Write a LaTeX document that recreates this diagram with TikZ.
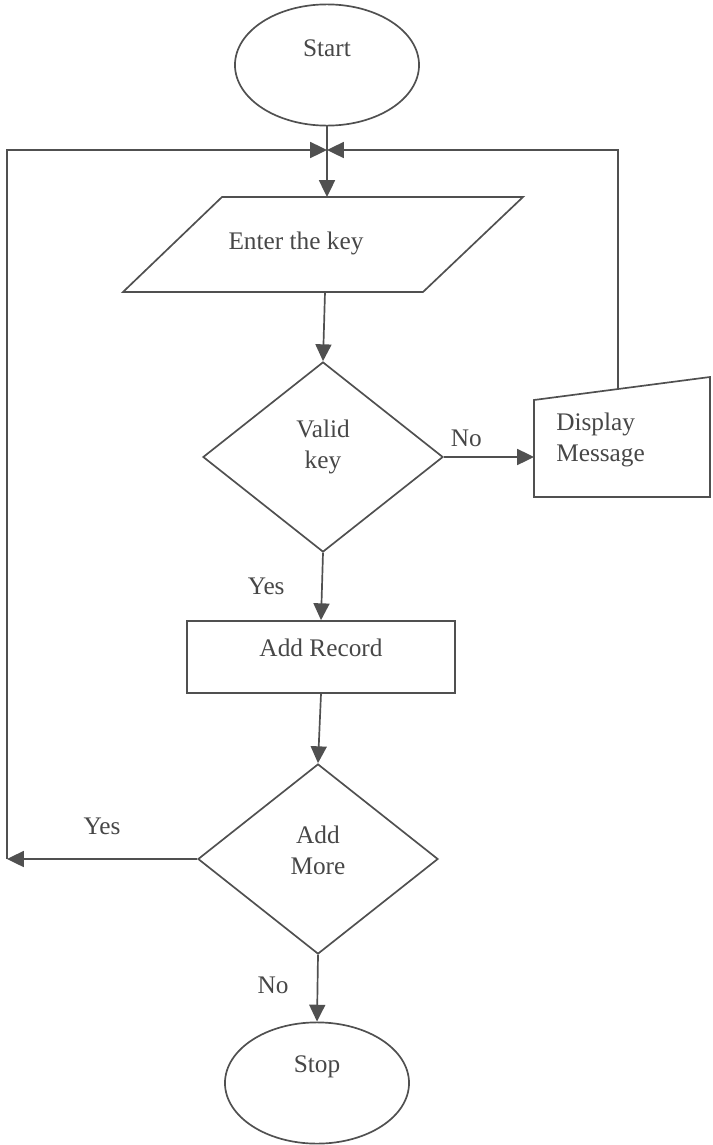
\documentclass[tikz,border=0pt]{standalone}
\usepackage{fontspec}
\setmainfont{Liberation Serif}
\usetikzlibrary{arrows.meta,shapes.geometric}
\definecolor{linegray}{HTML}{505050}
\definecolor{textgray}{HTML}{474747}
\tikzset{
    flowline/.style={draw=linegray, line width=1.2pt},
    flowarrow/.style={flowline, -{Triangle[length=4.2mm, width=4mm]}},
    txt/.style={text=textgray, font=\fontsize{18}{22}\selectfont, align=center, inner sep=0pt},
    terminal/.style={ellipse, flowline, minimum width=4.6cm, minimum height=3.03cm},
    decision/.style={diamond, flowline, minimum width=6cm, minimum height=4.75cm},
    process/.style={rectangle, flowline, minimum width=6.7cm, minimum height=1.8cm}
}
\begin{document}
    \begin{tikzpicture}[x=0.025cm, y=-0.025cm]
        \useasboundingbox (0, 0) rectangle (712, 1145);

        \node[terminal] (start) at (327, 65) {};
        \node[txt] (start-text) at (327, 48) {Start};

        \coordinate (merge) at (327, 150);
        \coordinate (loop-tl) at (7, 150);
        \coordinate (loop-bl) at (7, 859);
        \coordinate (loop-tr) at (618, 150);

        % input
        \draw[flowline] (222, 197) -- (523, 197) -- (423, 292) -- (123, 292) -- cycle;
        \node[txt] (enter) at (296, 243) {Enter the key};
        \coordinate (enter-top) at (327, 197);
        \coordinate (enter-bottom) at (325, 292);

        \node[decision] (valid) at (323, 457) {};
        \node[txt] (valid-text) at (323, 447) {Valid\\key};

        % display message (manual input)
        \draw[flowline] (534, 400) -- (710, 377) -- (710, 497) -- (534, 497) -- cycle;
        \node[txt, align=left, anchor=west] (message) at (556, 440) {Display\\Message};
        \coordinate (message-left) at (534, 457);
        \coordinate (message-top) at (618, 389);

        \node[process] (record) at (321, 657) {};
        \node[txt] (record-text) at (321, 648) {Add Record};

        \node[decision] (more) at (318, 859) {};
        \node[txt] (more-text) at (318, 850) {Add\\More};

        \node[terminal] (stop) at (317, 1083) {};
        \node[txt] (stop-text) at (317, 1067) {Stop};

        \draw[flowline] (start.south) -- (merge);
        \draw[flowarrow] (merge) -- (enter-top);
        \draw[flowarrow] (enter-bottom) -- (valid.north);
        \draw[flowarrow] (valid.east) -- node[txt, pos=0.25, above=7pt] {No} (message-left);
        \draw[flowarrow] (message-top) -- (loop-tr) -- (merge);
        \draw[flowarrow] (valid.south) -- node[txt, left=26pt] {Yes} (record.north);
        \draw[flowarrow] (record.south) -- (more.north);
        \draw[flowarrow] (more.west) -- node[txt, above=17pt] {Yes} (loop-bl);
        \draw[flowarrow] (loop-bl) -- (loop-tl) -- (merge);
        \draw[flowarrow] (more.south) -- node[txt, pos=0.45, left=20pt] {No} (stop.north);
    \end{tikzpicture}
\end{document}
